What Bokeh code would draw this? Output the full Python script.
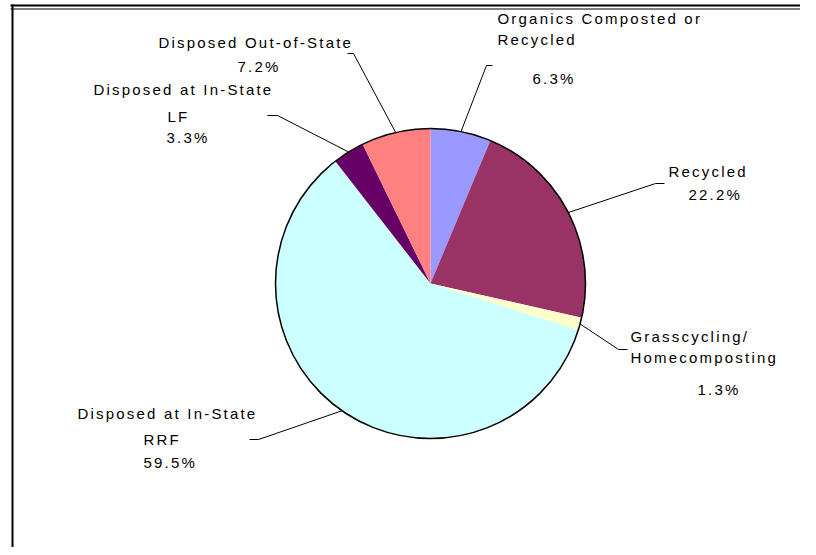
import math
from bokeh.plotting import figure
from bokeh.models import Range1d, ColumnDataSource, InlineStyleSheet
from bokeh.core.properties import value
from bokeh.embed import file_html
from bokeh.resources import INLINE

# ---- data ----
categories = ["Organics Composted or Recycled", "Recycled", "Grasscycling/ Homecomposting",
              "Disposed at In-State RRF", "Disposed at In-State LF", "Disposed Out-of-State"]
values = [6.3, 22.2, 1.3, 59.5, 3.3, 7.2]
colors = ["#9999FF", "#993366", "#FFFFCC", "#CCFFFF", "#660066", "#FF8080"]
name_lines = [["Organics Composted or", "Recycled"], ["Recycled"], ["Grasscycling/", "Homecomposting"],
              ["Disposed at In-State", "RRF"], ["Disposed at In-State", "LF"], ["Disposed Out-of-State"]]

# ---- layout (screen pixel positions of the reference) ----
CX, CY, R = 430, 283, 155
label_pos = [
    [(497, 18), (497, 39), (532, 78)],
    [(668, 171), (688, 194)],
    [(630, 336), (630, 357), (697, 389)],
    [(77, 413), (143, 439), (143, 462)],
    [(93, 89), (167, 116), (166, 137)],
    [(158, 42), (237, 66)],
]
elbows = [
    ((486, 65), (492, 65)),
    ((655, 183), (664, 183)),
    ((618, 349), (627, 349)),
    ((258, 439), (249, 439)),
    ((277, 115), (267, 115)),
    ((353, 53), (347, 53)),
]

def Y(sy):
    return -sy

p = figure(width=800, height=547, x_range=Range1d(0, 800), y_range=Range1d(-547, 0),
           output_backend="svg", toolbar_location=None, x_axis_type=None, y_axis_type=None,
           min_border=0)
p.grid.visible = False
p.outline_line_color = None
p.background_fill_color = "white"
p.border_fill_color = "white"
p.stylesheets = [InlineStyleSheet(css=":host { letter-spacing: 2.2px; }")]

total = sum(values)
starts, ends, mids = [], [], []
cum = 0.0
for v in values:
    a0 = math.pi / 2 - 2 * math.pi * cum / total
    cum += v
    a1 = math.pi / 2 - 2 * math.pi * cum / total
    starts.append(a0)
    ends.append(a1)
    mids.append((a0 + a1) / 2)

src = ColumnDataSource(dict(cat=categories, val=values, start=starts, end=ends, color=colors))
p.wedge(x=CX, y=Y(CY), radius=R, start_angle="start", end_angle="end", direction="clock",
        fill_color="color", line_color=None, source=src)
p.circle(x=[CX], y=[Y(CY)], radius=R, fill_color=None, line_color="black", line_width=1.5)

# leader lines
xs, ys = [], []
for m, (el, en) in zip(mids, elbows):
    ex = CX + R * math.cos(m)
    ey = CY - R * math.sin(m)
    xs.append([ex, el[0], en[0]])
    ys.append([Y(ey), Y(el[1]), Y(en[1])])
p.multi_line(xs, ys, line_color="black", line_width=1)

# labels
tx, ty, tt = [], [], []
for names, v, pos in zip(name_lines, values, label_pos):
    lines = names + [f"{v:.1f}%"]
    for s, (lx, ly) in zip(lines, pos):
        tx.append(lx)
        ty.append(Y(ly))
        tt.append(s)
p.text(x=tx, y=ty, text=tt, text_font=value("Liberation Sans"), text_font_size="15px",
       text_align="left", text_baseline="middle", text_color="black")

# frame
p.segment(x0=[10, 10], y0=[Y(5), Y(8.5)], x1=[800, 800], y1=[Y(5), Y(8.5)],
          line_color="black", line_width=[2, 1])
p.segment(x0=[12], y0=[Y(4)], x1=[12], y1=[Y(547)], line_color="black", line_width=2)

open("out.html", "w").write(file_html(p, INLINE))
